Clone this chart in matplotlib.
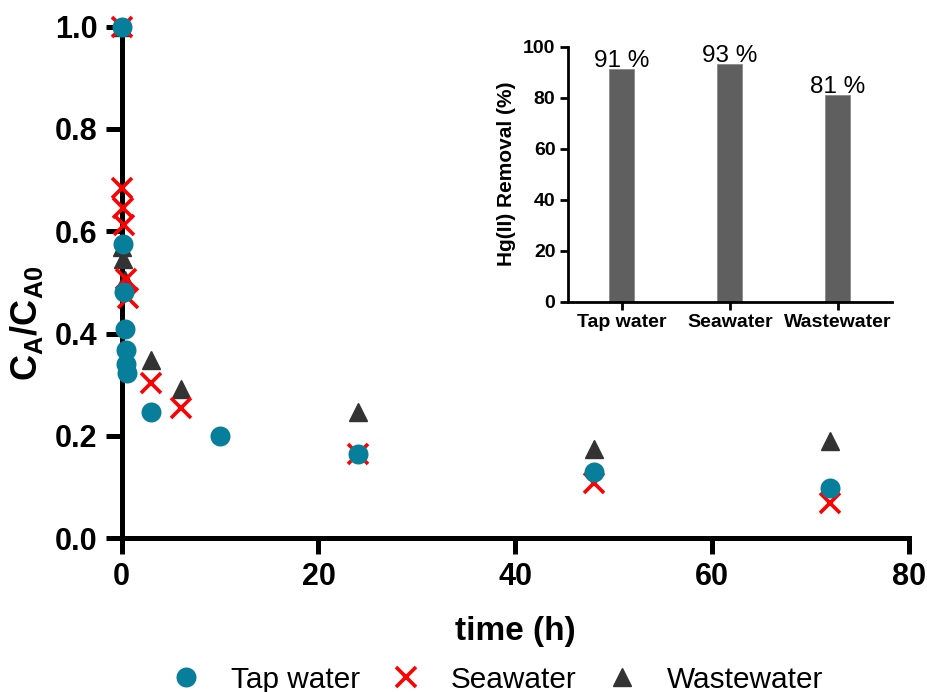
import matplotlib
matplotlib.use("Agg")
import matplotlib.pyplot as plt
from matplotlib.lines import Line2D

plt.rcParams['font.family'] = ['Liberation Sans', 'DejaVu Sans']
plt.rcParams['mathtext.fontset'] = 'custom'
plt.rcParams['mathtext.rm'] = 'Liberation Sans'
plt.rcParams['mathtext.bf'] = 'Liberation Sans:bold'

# ---- data ----
tap_t = [0, 0.17, 0.25, 0.33, 0.42, 0.5, 0.58, 3, 10, 24, 48, 72]
tap_y = [1.0, 0.576, 0.481, 0.409, 0.367, 0.340, 0.322, 0.246, 0.200, 0.164, 0.130, 0.098]

sea_t = [0, 0.08, 0.17, 0.25, 0.5, 0.67, 3, 6, 24, 48, 72]
sea_y = [1.0, 0.685, 0.645, 0.612, 0.506, 0.470, 0.303, 0.255, 0.164, 0.107, 0.068]

waste_t = [0, 0.08, 0.17, 0.33, 3, 6, 24, 48, 72]
waste_y = [1.0, 0.57, 0.545, 0.505, 0.348, 0.291, 0.246, 0.175, 0.190]

inset_cats = ["Tap water", "Seawater", "Wastewater"]
inset_vals = [91, 93, 81]
inset_labels = ["91 %", "93 %", "81 %"]
x_ticks = [0, 20, 40, 60, 80]
y_ticks = [0.0, 0.2, 0.4, 0.6, 0.8, 1.0]
inset_yticks = [0, 20, 40, 60, 80, 100]

c_tap = '#087F9A'
c_sea = '#FF0000'
c_waste = '#333333'

fig = plt.figure(figsize=(9.28, 6.92), dpi=100)
ax = fig.add_axes([0.131, 0.2225, 0.8486, 0.7389])

ax.plot(waste_t, waste_y, linestyle='none', marker='^', markersize=13, color=c_waste,
        clip_on=False, zorder=3)
ax.plot(sea_t, sea_y, linestyle='none', marker='x', markersize=14, markeredgewidth=2.6,
        color=c_sea, clip_on=False, zorder=4)
ax.plot(tap_t, tap_y, linestyle='none', marker='o', markersize=14.4, color=c_tap,
        markeredgewidth=0, clip_on=False, zorder=5)

ax.set_xlim(0, 80)
ax.set_ylim(0, 1.0)
ax.set_xticks(x_ticks)
ax.set_yticks(y_ticks)
ax.set_yticklabels([f"{v:.1f}" for v in y_ticks])
for s in ['top', 'right']:
    ax.spines[s].set_visible(False)
for s in ['left', 'bottom']:
    ax.spines[s].set_linewidth(3.6)
ax.tick_params(axis='both', which='major', length=11.5, width=3.6, direction='out',
               labelsize=22, pad=6)
for lab in ax.get_xticklabels() + ax.get_yticklabels():
    lab.set_fontweight('bold')
ax.set_xlabel('time (h)', fontsize=24, fontweight='bold', labelpad=17)
ax.set_ylabel(r'$\mathbf{C_{A}/C_{A0}}$', fontsize=26)
ax.yaxis.set_label_coords(-0.097, 0.42)

handles = [
    Line2D([], [], linestyle='none', marker='o', markersize=14.4, color=c_tap, markeredgewidth=0),
    Line2D([], [], linestyle='none', marker='x', markersize=14, markeredgewidth=2.6, color=c_sea),
    Line2D([], [], linestyle='none', marker='^', markersize=13, color=c_waste),
]
fig.legend(handles, ["Tap water", "Seawater", "Wastewater"], loc='center',
           bbox_to_anchor=(0.536, 0.018), ncol=3, frameon=False, fontsize=21.4,
           handlelength=1.0, handletextpad=1.0, columnspacing=1.05)

# ---- inset ----
ia = fig.add_axes([0.612, 0.5636, 0.349, 0.3692])
xs = list(range(len(inset_cats)))
ia.bar(xs, inset_vals, width=0.23, color='#5F5F5F', edgecolor='#8A8A8A', linewidth=0.6)
ia.set_xlim(-0.5, 2.5)
ia.set_ylim(0, 100)
ia.set_xticks(xs)
ia.set_xticklabels(inset_cats)
ia.set_yticks(inset_yticks)
for s in ['top', 'right']:
    ia.spines[s].set_visible(False)
for s in ['left', 'bottom']:
    ia.spines[s].set_linewidth(2.0)
ia.tick_params(axis='both', length=6, width=2.0, labelsize=14, pad=3)
for lab in ia.get_xticklabels() + ia.get_yticklabels():
    lab.set_fontweight('bold')
ia.set_ylabel('Hg(II) Removal (%)', fontsize=15, fontweight='bold', labelpad=5)
for x, v, t in zip(xs, inset_vals, inset_labels):
    ia.text(x, v + 0.8, t, ha='center', va='baseline', fontsize=17.5, clip_on=False)

fig.savefig('out.png', dpi=100)
